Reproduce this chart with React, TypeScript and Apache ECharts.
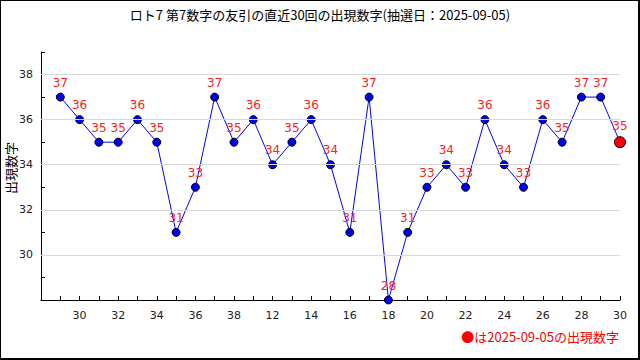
import React, { useEffect, useRef } from "react";
import * as echarts from "echarts";

const titleText = "ロト7 第7数字の友引の直近30回の出現数字(抽選日：2025-09-05)";
const yAxisName = "出現数字";
const legendText = "●は2025-09-05の出現数字";
// tick labels for each draw position (only every other one is displayed)
const xTickLabels = [
  "29", "30", "31", "32", "33", "34", "35", "36", "37", "38",
  "11", "12", "13", "14", "15", "16", "17", "18", "19", "20",
  "21", "22", "23", "24", "25", "26", "27", "28", "29", "30",
];
const values = [
  37, 36, 35, 35, 36, 35, 31, 33, 37, 35,
  36, 34, 35, 36, 34, 31, 37, 28, 31, 33,
  34, 33, 36, 34, 33, 36, 35, 37, 37, 35,
];
const yTickValues = [30, 32, 34, 36, 38];

export default function App() {
  const ref = useRef<HTMLDivElement>(null);
  useEffect(() => {
    document.body.style.margin = "0";
    const chart = echarts.init(ref.current!, null, { renderer: "svg" });
    const last = values.length - 1;
    const data = values.map((v, i) => {
      if (i === last) {
        return {
          value: [i, v],
          symbolSize: 11,
          itemStyle: { color: "#ff0000", borderColor: "#000", borderWidth: 1 },
        };
      }
      return { value: [i, v] };
    });
    chart.setOption({
      animation: false,
      backgroundColor: "#fff",
      textStyle: { fontFamily: "'Noto Sans CJK JP', 'DejaVu Sans', sans-serif" },
      title: {
        text: titleText,
        left: "center",
        top: 3,
        textStyle: {
          fontSize: 13,
          fontWeight: "normal",
          color: "#000",
          fontFamily: "'Noto Sans CJK JP', sans-serif",
        },
      },
      grid: {
        left: 41,
        right: 20,
        top: 52,
        bottom: 60,
        containLabel: false,
        outerBoundsMode: "none",
      },
      xAxis: {
        type: "value",
        min: -1,
        max: values.length - 1,
        interval: 1,
        axisLine: { show: true, onZero: false, lineStyle: { color: "#000", width: 1 } },
        axisTick: { show: true, inside: true, length: 4, lineStyle: { color: "#000" } },
        splitLine: { show: false },
        axisLabel: {
          color: "#222",
          fontSize: 11,
          fontFamily: "'DejaVu Sans', sans-serif",
          margin: 10,
          formatter: (v: number) => {
            const i = Math.round(v);
            if (i < 0 || i % 2 === 0) return "";
            return xTickLabels[i] ?? "";
          },
        },
      },
      yAxis: {
        type: "value",
        min: 28,
        max: 39,
        interval: 1,
        axisLine: { show: true, onZero: false, lineStyle: { color: "#000", width: 1 } },
        axisTick: { show: true, inside: true, length: 4, lineStyle: { color: "#000" } },
        splitLine: { show: false },
        axisLabel: {
          color: "#222",
          fontSize: 11,
          fontFamily: "'DejaVu Sans', sans-serif",
          margin: 8,
          formatter: (v: number) => (yTickValues.includes(v) ? String(v) : ""),
        },
      },
      graphic: [
        {
          type: "rect",
          shape: { x: 0, y: 0, width: 639, height: 359 },
          style: { fill: "none", stroke: "#000", lineWidth: 2 },
          silent: true,
          z: 100,
        },
        {
          type: "group",
          x: 10,
          y: 168,
          rotation: Math.PI / 2,
          children: [
            {
              type: "text",
              x: 0,
              y: 0,
              style: {
                text: yAxisName,
                fill: "#000",
                fontSize: 13,
                fontFamily: "'Noto Sans CJK JP', sans-serif",
                align: "center",
                verticalAlign: "middle",
              },
            },
          ],
        },
        {
          type: "text",
          right: 21,
          top: 330,
          style: {
            text: legendText,
            fill: "#ff0000",
            fontSize: 13,
            fontFamily: "'Noto Sans CJK JP', sans-serif",
          },
        },
      ],
      series: [
        {
          type: "line",
          data: yTickValues.map((v) => [-1, v]),
          symbol: "none",
          lineStyle: { width: 0 },
          silent: true,
          markLine: {
            silent: true,
            symbol: "none",
            label: { show: false },
            lineStyle: { color: "#d8d8d8", type: "solid", width: 1 },
            data: yTickValues.map((v) => ({ yAxis: v })),
          },
          z: 1,
        },
        {
          type: "line",
          data,
          symbol: "circle",
          symbolSize: 8,
          lineStyle: { color: "#0000ff", width: 1 },
          itemStyle: { color: "#0000ee", borderColor: "#000", borderWidth: 1 },
          label: {
            show: true,
            position: "top",
            distance: 4,
            color: "#ff2020",
            fontSize: 12,
            fontFamily: "'DejaVu Sans', sans-serif",
            formatter: (p: any) => String(p.value[1]),
          },
          z: 3,
        },
      ],
    });
    return () => chart.dispose();
  }, []);
  return <div ref={ref} style={{ width: 640, height: 360 }} />;
}
